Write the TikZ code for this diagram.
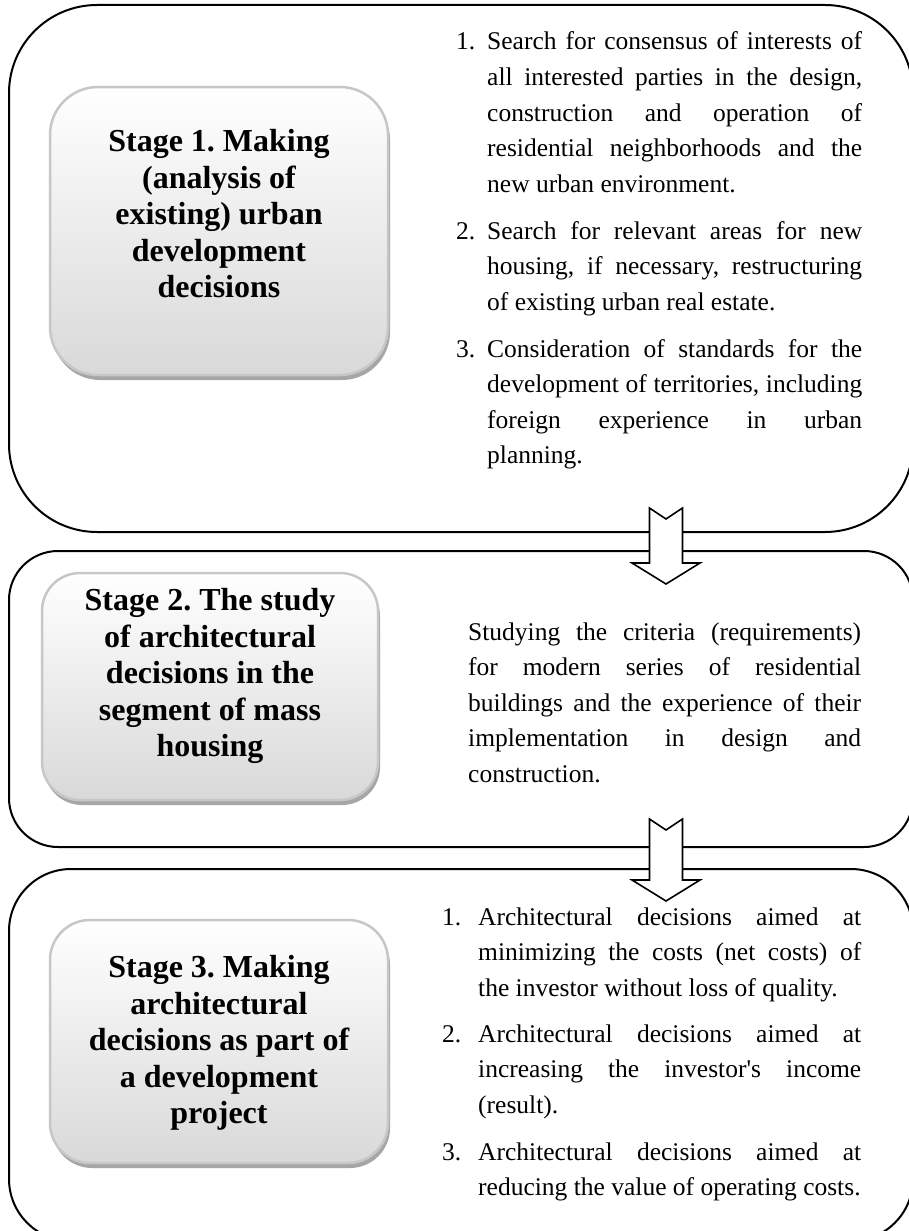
\documentclass[tikz,border=0pt]{standalone}
\usepackage{fontspec}
\setmainfont{Liberation Serif}
\frenchspacing
\newcommand\blockarr[3]{%
  \draw[blockarrow] (#1-16.5,#2) -- (#1,#2+11) -- (#1+16.5,#2) -- (#1+16.5,#3)
    -- (#1+34,#3) -- (#1,#3+21) -- (#1-34,#3) -- (#1-16.5,#3) -- cycle;}
\newcommand\JL[2]{\makebox[#1pt][s]{#2}}
\begin{document}
\begin{tikzpicture}[x=1pt,y=-1pt,
  outer/.style={draw=black, line width=2pt},
  stagebox/.style={draw=black!22, line width=2.5pt, top color=white, bottom color=black!15, inner sep=0pt},
  stagetext/.style={align=center, inner sep=0pt, font=\fontsize{32}{36.5}\selectfont\bfseries\frenchspacing},
  shadowbox/.style={fill=black!35},
  body/.style={inner sep=0pt, anchor=base west, font=\fontsize{25.5}{35.5}\selectfont\frenchspacing},
  blockarrow/.style={draw=black, line width=1.6pt, fill=white, line join=miter}]
\clip (0,0) rectangle (909,1231);
\fill[white] (0,0) rectangle (909,1231);
% outer boxes
\draw[outer, rounded corners=88pt] (9,5) rectangle (913,532);
\draw[outer, rounded corners=49pt] (9,551) rectangle (913,847);
\draw[outer, rounded corners=62pt] (9,869) rectangle (913,1241);
% shadows
\fill[shadowbox, rounded corners=48pt] (52,92) rectangle (390,380);
\fill[shadowbox, rounded corners=38pt] (44,578) rectangle (380,805);
\fill[shadowbox, rounded corners=40pt] (52,925) rectangle (390,1168);
% stage boxes
\node[stagebox, rounded corners=48pt, minimum width=338pt, minimum height=288pt] (s1) at (219,231) {};
\node[stagetext] (s1t) at (219,214)
  {Stage 1. Making\\(analysis of\\existing) urban\\development\\decisions};
\node[stagebox, rounded corners=38pt, minimum width=336pt, minimum height=227pt] (s2) at (210,686.5) {};
\node[stagetext] (s2t) at (210,676)
  {Stage 2. The study\\of architectural\\decisions in the\\segment of mass\\housing};
\node[stagebox, rounded corners=40pt, minimum width=338pt, minimum height=243pt] (s3) at (219,1041.5) {};
\node[stagetext] (s3t) at (219,1043)
  {Stage 3. Making\\architectural\\decisions as part of\\a development\\project};
% box 1 text
\node[body] (n11) at (456,50) {1.};
\node[body] (t11a) at (487,50) {\JL{375}{Search for consensus of interests of}};
\node[body] (t11b) at (487,85.5) {\JL{375}{all interested parties in the design,}};
\node[body] (t11c) at (487,121) {\JL{375}{construction and operation of}};
\node[body] (t11d) at (487,156.5) {\JL{375}{residential neighborhoods and the}};
\node[body] (t11e) at (487,192) {new urban environment.};
\node[body] (n12) at (456,239) {2.};
\node[body] (t12a) at (487,239) {\JL{375}{Search for relevant areas for new}};
\node[body] (t12b) at (487,274.5) {\JL{375}{housing, if necessary, restructuring}};
\node[body] (t12c) at (487,310) {of existing urban real estate.};
\node[body] (n13) at (456,357) {3.};
\node[body] (t13a) at (487,357) {\JL{375}{Consideration of standards for the}};
\node[body] (t13b) at (487,392.5) {\JL{375}{development of territories, including}};
\node[body] (t13c) at (487,428) {\JL{375}{foreign experience in urban}};
\node[body] (t13d) at (487,463.5) {planning.};
% box 2 text
\node[body] (t2a) at (468,640) {\JL{393}{Studying the criteria (requirements)}};
\node[body] (t2b) at (468,675.5) {\JL{393}{for modern series of residential}};
\node[body] (t2c) at (468,711) {\JL{393}{buildings and the experience of their}};
\node[body] (t2d) at (468,746.5) {\JL{393}{implementation in design and}};
\node[body] (t2e) at (468,782) {construction.};
% box 3 text
\node[body] (n31) at (442,925) {1.};
\node[body] (t31a) at (478,925) {\JL{383}{Architectural decisions aimed at}};
\node[body] (t31b) at (478,960.5) {\JL{383}{minimizing the costs (net costs) of}};
\node[body] (t31c) at (478,996) {the investor without loss of quality.};
\node[body] (n32) at (442,1042) {2.};
\node[body] (t32a) at (478,1042) {\JL{383}{Architectural decisions aimed at}};
\node[body] (t32b) at (478,1077.5) {\JL{383}{increasing the investor\textquotesingle s income}};
\node[body] (t32c) at (478,1113) {(result).};
\node[body] (n33) at (442,1160) {3.};
\node[body] (t33a) at (478,1160) {\JL{383}{Architectural decisions aimed at}};
\node[body] (t33b) at (478,1195.5) {reducing the value of operating costs.};
% arrows
\blockarr{666}{508}{563}
\blockarr{666}{819}{880}
\end{tikzpicture}
\end{document}
